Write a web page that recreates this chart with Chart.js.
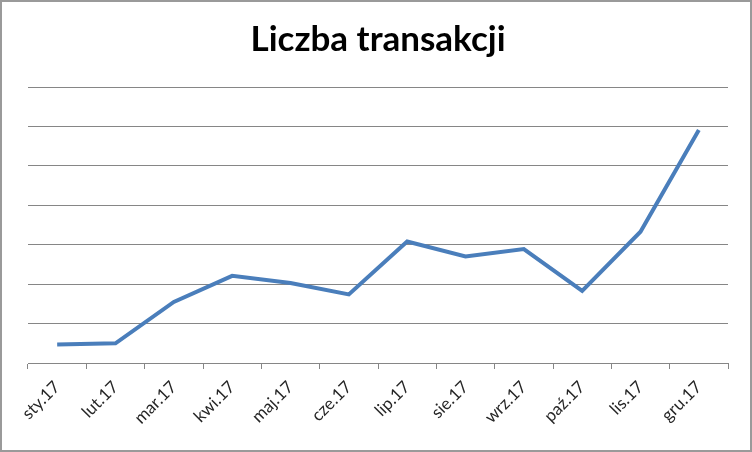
<!DOCTYPE html>
<html>
<head>
<meta charset="utf-8">
<script src="https://cdn.jsdelivr.net/npm/chart.js@4"></script>
<style>
html,body{margin:0;padding:0;background:#fff;}
#wrap{width:752px;height:452px;position:relative;}
</style>
</head>
<body>
<div id="wrap"><canvas id="c" width="752" height="452"></canvas></div>
<script>
const categories = ['sty.17','lut.17','mar.17','kwi.17','maj.17','cze.17','lip.17','sie.17','wrz.17','paź.17','lis.17','gru.17'];
const transakcje = [47, 50, 155, 221, 203, 174, 308, 270, 289, 183, 333, 591];
const chartTitle = 'Liczba transakcji';

const borderPlugin = {
  id: 'outerBorder',
  afterDraw(chart) {
    const ctx = chart.ctx;
    ctx.save();
    ctx.strokeStyle = '#9a9a9a';
    ctx.lineWidth = 2;
    ctx.strokeRect(1, 1, chart.width - 2, chart.height - 2);
    ctx.restore();
  }
};

new Chart(document.getElementById('c'), {
  type: 'line',
  data: {
    labels: categories,
    datasets: [{
      data: transakcje,
      borderColor: '#4a7ebb',
      borderWidth: 4,
      pointRadius: 0,
      pointHoverRadius: 0,
      tension: 0,
      fill: false
    }]
  },
  options: {
    responsive: false,
    animation: false,
    devicePixelRatio: 1,
    layout: { padding: { left: 28, right: 24, top: 19, bottom: 0 } },
    plugins: {
      legend: { display: false },
      tooltip: { enabled: false },
      title: {
        display: true,
        text: chartTitle,
        color: '#000',
        font: { family: 'Lato', size: 35, weight: 'bold', lineHeight: 1.2 },
        padding: { top: 0, bottom: 26 }
      }
    },
    scales: {
      x: {
        offset: true,
        grid: {
          offset: true,
          drawOnChartArea: false,
          drawTicks: true,
          tickLength: 6,
          color: '#868686'
        },
        border: { display: true, color: '#868686', width: 1 },
        ticks: {
          minRotation: 45,
          maxRotation: 45,
          autoSkip: false,
          padding: 8,
          color: '#262626',
          font: { family: 'Lato', size: 17 }
        },
        afterFit(scale) { scale.height = 89; }
      },
      y: {
        min: 0,
        max: 700,
        ticks: { display: false, stepSize: 100 },
        grid: { color: '#868686', lineWidth: 1, drawTicks: false },
        border: { display: false },
        afterFit(scale) { scale.width = 0; }
      }
    }
  },
  plugins: [borderPlugin]
});
</script>
</body>
</html>
